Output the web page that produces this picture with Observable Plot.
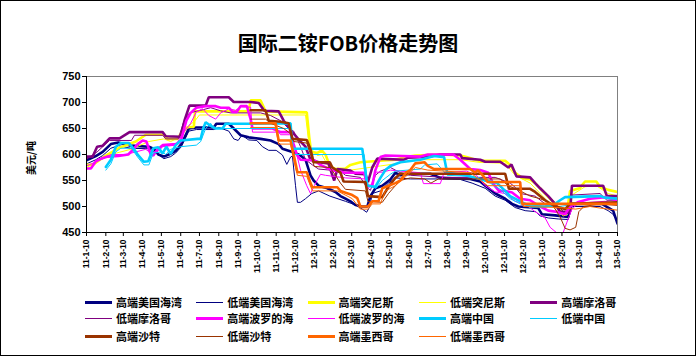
<!DOCTYPE html>
<html><head><meta charset="utf-8">
<script src="https://cdn.jsdelivr.net/npm/d3@7"></script>
<script src="https://cdn.jsdelivr.net/npm/@observablehq/plot@0.6"></script>
<style>
body{margin:0;background:#fff;}
#wrap{position:relative;width:696px;height:356px;overflow:hidden;background:#fff;font-family:"Noto Sans CJK SC","Noto Sans",sans-serif;}
#border{position:absolute;left:0;top:0;width:696px;height:356px;box-sizing:border-box;border:1px solid #000;pointer-events:none;}
#chart{position:absolute;left:0;top:0;}
#chart svg text{font-weight:bold;font-family:"Liberation Sans",Arial,sans-serif;fill:#000;}
#title{position:absolute;left:0;width:696px;top:31px;text-align:center;font-size:20px;font-weight:bold;line-height:24px;color:#000;}
#ylab{position:absolute;left:30px;top:158px;transform:translate(-50%,-50%) rotate(-90deg);font-size:10px;font-weight:bold;white-space:nowrap;}
.lg{position:absolute;height:14px;white-space:nowrap;font-size:11px;font-weight:bold;line-height:14px;}
.lg .sw{position:absolute;left:0;width:27px;}
.lg .tx{position:absolute;left:31px;top:0;}
</style>
</head><body>
<div id="wrap">
  <div id="chart"></div>
  <div id="title">国际二铵FOB价格走势图</div>
  <div id="ylab">美元/吨</div>
  <div id="legend"></div>
  <div id="border"></div>
</div>
<script>
// ---- data (date yy-mm-dd, USD/t) ----
const tickDates = ["11-01-10","11-02-10","11-03-10","11-04-10","11-05-10","11-06-10","11-07-10","11-08-10","11-09-10","11-10-10","11-11-10","11-12-10","12-01-10","12-02-10","12-03-10","12-04-10","12-05-10","12-06-10","12-07-10","12-08-10","12-09-10","12-10-10","12-11-10","12-12-10","13-01-10","13-02-10","13-03-10","13-04-10","13-05-10"];
const yTicks = [450,500,550,600,650,700,750];

const seriesNames = ["高端美国海湾","低端美国海湾","高端突尼斯","低端突尼斯","高端摩洛哥","低端摩洛哥","高端波罗的海","低端波罗的海","高端中国","低端中国","高端沙特","低端沙特","高端墨西哥","低端墨西哥"];
const seriesColors = ["#000080","#000080","#FFFF00","#FFFF00","#800080","#800080","#FF00FF","#FF00FF","#00CCFF","#00CCFF","#993300","#993300","#FF6600","#FF6600"];
const seriesThick = [true,false,true,false,true,false,true,false,true,false,true,false,true,false];

const hiUS = [["11-01-10",589],["11-01-25",597],["11-02-05",605],["11-02-18",620],["11-03-02",623],["11-03-22",617],["11-04-20",615],["11-04-29",610],["11-05-05",600],["11-05-14",596],["11-05-22",600],["11-06-02",607],["11-06-11",620],["11-06-23",650],["11-07-05",652],["11-08-02",652],["11-08-06",659],["11-08-26",659],["11-09-03",650],["11-09-14",637],["11-09-27",633],["11-10-16",630],["11-11-01",627],["11-11-14",620],["11-11-20",611],["11-12-06",605],["11-12-19",598],["11-12-27",590],["12-01-04",560],["12-01-09",550],["12-01-17",540],["12-01-31",535],["12-02-13",528],["12-02-21",520],["12-02-29",515],["12-03-08",510],["12-03-16",503],["12-03-27",500],["12-04-04",500],["12-04-09",520],["12-04-17",535],["12-04-28",540],["12-05-11",552],["12-05-19",565],["12-05-27",560],["12-06-12",563],["12-07-14",563],["12-07-30",555],["12-09-16",553],["12-10-02",548],["12-10-10",540],["12-10-26",525],["12-11-11",515],["12-11-22",505],["12-12-02",500],["13-01-03",497],["13-01-09",485],["13-01-30",483],["13-02-20",480],["13-02-26",505],["13-04-15",505],["13-04-25",498],["13-05-03",492],["13-05-10",467]];
const loUS = [["11-01-10",582],["11-01-25",590],["11-02-05",598],["11-02-18",612],["11-03-02",617],["11-03-22",612],["11-04-20",611],["11-04-29",605],["11-05-14",592],["11-05-25",596],["11-06-02",603],["11-06-11",615],["11-06-23",645],["11-07-05",648],["11-08-02",648],["11-08-10",652],["11-08-26",645],["11-09-03",630],["11-09-10",627],["11-09-16",637],["11-09-27",628],["11-10-10",627],["11-10-19",615],["11-10-29",608],["11-11-10",608],["11-11-20",599],["11-11-27",581],["11-12-03",595],["11-12-06",597],["11-12-11",540],["11-12-14",508],["11-12-19",508],["11-12-27",515],["12-01-06",525],["12-01-17",530],["12-02-04",520],["12-02-29",510],["12-03-16",503],["12-03-27",495],["12-04-03",489],["12-04-08",500],["12-04-12",525],["12-04-25",530],["12-05-08",545],["12-05-19",555],["12-06-12",553],["12-07-25",553],["12-08-31",552],["12-09-19",545],["12-10-10",535],["12-10-26",520],["12-11-11",512],["12-11-19",505],["12-11-27",498],["12-12-13",492],["12-12-30",490],["13-01-06",482],["13-01-19",478],["13-02-04",476],["13-02-20",475],["13-02-26",500],["13-04-12",500],["13-04-25",492],["13-05-03",485],["13-05-10",470]];
const hiTun = [["11-01-10",580],["11-01-20",580],["11-02-10",598],["11-03-02",612],["11-03-30",625],["11-04-15",638],["11-05-15",638],["11-05-20",630],["11-06-05",630],["11-06-15",650],["11-06-23",653],["11-07-01",653],["11-07-03",683],["11-09-27",683],["11-09-30",704],["11-10-16",704],["11-10-24",683],["11-12-29",681],["12-01-02",633],["12-01-05",605],["12-01-15",603],["12-01-22",608],["12-01-28",600],["12-02-04",578],["12-02-13",572],["12-02-29",573],["12-03-08",580],["12-03-24",585],["12-04-25",588],["12-05-19",590],["12-06-05",595],["12-06-20",598],["12-07-30",600],["12-08-31",598],["12-09-10",595],["12-09-30",588],["12-11-11",588],["12-11-19",580],["12-11-27",565],["12-12-08",555],["12-12-21",552],["12-12-29",545],["13-01-06",535],["13-01-14",525],["13-01-30",505],["13-02-12",488],["13-02-18",490],["13-02-23",530],["13-03-10",535],["13-03-19",548],["13-04-06",548],["13-04-12",538],["13-04-25",532],["13-05-10",528]];
const loTun = [["11-01-10",575],["11-01-25",585],["11-02-18",600],["11-03-22",610],["11-04-20",625],["11-05-14",630],["11-05-25",625],["11-06-11",635],["11-06-23",655],["11-07-03",665],["11-07-10",676],["11-12-27",676],["12-01-02",615],["12-01-15",598],["12-01-22",600],["12-02-04",572],["12-02-13",566],["12-03-08",570],["12-04-25",578],["12-05-19",582],["12-06-20",590],["12-08-31",590],["12-09-30",585],["12-11-11",583],["12-11-27",560],["12-12-21",545],["13-01-14",515],["13-01-30",495],["13-02-12",482],["13-02-18",484],["13-02-23",520],["13-03-19",538],["13-04-06",540],["13-04-25",525],["13-05-10",520]];
const hiMor = [["11-01-10",596],["11-01-20",596],["11-01-27",615],["11-02-05",617],["11-02-16",631],["11-03-04",631],["11-03-20",643],["11-05-12",643],["11-05-17",635],["11-06-10",634],["11-06-16",665],["11-06-24",694],["11-07-20",694],["11-07-25",710],["11-08-26",710],["11-09-03",701],["11-09-30",701],["11-10-13",699],["11-10-22",684],["11-11-14",683],["11-11-22",665],["11-11-30",652],["11-12-08",640],["11-12-19",625],["11-12-27",615],["12-01-04",590],["12-01-17",585],["12-02-02",583],["12-02-08",560],["12-02-11",550],["12-02-16",572],["12-03-08",569],["12-03-16",563],["12-04-01",562],["12-04-05",547],["12-04-12",575],["12-04-20",592],["12-06-02",590],["12-06-09",594],["12-07-14",596],["12-07-30",600],["12-08-31",600],["12-09-03",593],["12-10-02",590],["12-10-10",586],["12-11-03",586],["12-11-16",575],["12-11-21",581],["12-11-29",558],["12-12-21",556],["12-12-29",545],["13-01-06",535],["13-01-19",520],["13-01-30",505],["13-02-07",490],["13-02-23",490],["13-02-26",540],["13-04-17",540],["13-04-23",520],["13-05-10",520]];
const loMor = [["11-01-10",591],["11-01-27",605],["11-02-16",627],["11-03-23",627],["11-03-28",637],["11-05-12",637],["11-05-17",630],["11-06-06",630],["11-06-14",660],["11-06-24",680],["11-07-12",685],["11-07-28",690],["11-08-13",684],["11-08-29",680],["11-10-16",680],["11-11-01",675],["11-11-17",665],["11-11-30",650],["11-12-08",645],["11-12-19",615],["11-12-27",590],["12-01-07",580],["12-01-17",572],["12-02-04",570],["12-02-21",568],["12-02-29",560],["12-03-24",556],["12-04-03",537],["12-04-09",531],["12-04-17",560],["12-04-25",568],["12-05-11",575],["12-05-19",570],["12-05-27",565],["12-06-12",560],["12-08-07",556],["12-10-26",556],["12-11-19",545],["12-11-27",537],["12-12-05",525],["12-12-29",520],["13-01-14",505],["13-02-07",498],["13-02-15",485],["13-02-23",488],["13-02-26",522],["13-04-12",525],["13-04-23",512],["13-05-10",512]];
const hiBal = [["11-01-10",573],["11-01-17",573],["11-01-25",587],["11-02-02",592],["11-02-13",596],["11-03-02",597],["11-03-18",600],["11-03-26",610],["11-04-02",620],["11-04-10",627],["11-04-16",625],["11-04-23",600],["11-04-27",598],["11-05-04",610],["11-05-12",618],["11-06-02",620],["11-06-10",625],["11-06-19",665],["11-06-26",680],["11-07-05",690],["11-07-20",693],["11-08-05",693],["11-08-13",690],["11-08-26",690],["11-09-01",682],["11-09-08",682],["11-09-14",693],["11-09-24",693],["11-09-30",668],["11-10-03",650],["11-11-04",650],["11-11-17",643],["11-12-03",643],["11-12-08",620],["11-12-13",600],["11-12-19",590],["12-01-10",589],["12-01-20",580],["12-02-07",570],["12-02-29",565],["12-03-30",565],["12-04-04",540],["12-04-12",540],["12-04-17",570],["12-04-25",595],["12-05-03",598],["12-06-28",596],["12-07-10",600],["12-08-20",600],["12-08-31",590],["12-09-16",572],["12-10-02",570],["12-10-15",565],["12-10-22",545],["12-11-01",530],["12-11-11",530],["12-11-22",527],["12-12-05",515],["12-12-21",512],["13-01-06",500],["13-01-19",492],["13-02-01",490],["13-02-15",485],["13-02-23",500],["13-03-07",508],["13-03-27",515],["13-04-20",518],["13-05-10",512]];
const loBal = [["11-01-10",578],["11-02-02",590],["11-02-18",600],["11-03-14",600],["11-03-30",605],["11-04-15",610],["11-04-23",603],["11-05-07",608],["11-05-12",615],["11-06-02",618],["11-06-13",640],["11-06-26",660],["11-07-05",682],["11-07-15",688],["11-07-25",675],["11-08-05",668],["11-08-13",680],["11-08-26",688],["11-09-06",685],["11-09-14",692],["11-09-30",691],["11-10-03",643],["11-11-14",643],["11-11-17",638],["11-12-03",638],["11-12-13",600],["11-12-19",570],["11-12-29",540],["12-01-04",525],["12-01-10",540],["12-01-20",562],["12-01-28",560],["12-02-29",555],["12-04-01",553],["12-04-05",535],["12-04-10",540],["12-04-17",566],["12-04-28",566],["12-05-11",570],["12-05-27",568],["12-06-28",565],["12-07-03",544],["12-07-30",544],["12-08-05",565],["12-09-10",568],["12-09-26",560],["12-10-10",540],["12-10-26",528],["12-11-11",525],["12-11-27",510],["12-12-13",505],["12-12-29",490],["13-01-14",478],["13-01-22",460],["13-02-01",450],["13-02-12",450],["13-02-18",470],["13-02-26",495],["13-03-07",505],["13-03-27",508],["13-04-20",510],["13-05-10",505]];
const hiChn = [["11-02-10",576],["11-02-18",590],["11-02-26",615],["11-03-06",622],["11-03-19",622],["11-03-26",612],["11-04-02",600],["11-04-12",586],["11-04-19",587],["11-04-27",612],["11-05-05",614],["11-05-12",602],["11-05-18",615],["11-05-25",601],["11-06-02",618],["11-06-10",627],["11-07-07",630],["11-07-12",630],["11-07-16",650],["11-07-20",662],["11-07-28",655],["11-08-05",650],["11-08-16",650],["11-08-21",659],["11-09-27",659],["11-12-03",660],["11-12-06",611],["12-03-27",611],["12-04-04",540],["12-04-17",538],["12-04-25",555],["12-05-03",570],["12-05-11",578],["12-05-27",585],["12-06-28",590],["12-07-20",597],["12-08-05",595],["12-08-10",565],["12-09-08",560],["12-10-18",548],["12-10-29",545],["12-11-11",530],["12-11-19",520],["12-12-21",500],["13-01-14",500],["13-01-30",505],["13-02-07",512],["13-02-15",518],["13-04-12",520],["13-04-20",517],["13-05-10",515]];
const loChn = [["11-02-10",570],["11-02-18",582],["11-02-26",605],["11-03-06",612],["11-03-23",612],["11-04-02",595],["11-04-12",580],["11-04-20",580],["11-04-27",603],["11-05-12",605],["11-05-17",600],["11-05-25",610],["11-06-10",615],["11-07-05",618],["11-07-12",625],["11-07-20",650],["11-07-28",660],["11-08-02",650],["11-12-03",650],["11-12-06",600],["12-03-30",600],["12-04-05",540],["12-04-18",535],["12-04-28",550],["12-05-11",562],["12-05-19",568],["12-06-28",572],["12-07-05",580],["12-07-25",582],["12-08-10",560],["12-09-16",558],["12-10-18",545],["12-11-03",533],["12-11-19",515],["12-12-05",505],["13-01-14",500],["13-02-07",500],["13-03-04",505],["13-05-10",505]];
const hiSau = [["11-09-30",685],["11-10-24",685],["11-10-29",665],["11-11-17",663],["11-11-30",660],["11-12-06",630],["11-12-29",628],["12-01-04",610],["12-01-09",585],["12-02-04",585],["12-02-08",575],["12-02-21",565],["12-02-26",548],["12-04-01",547],["12-04-05",520],["12-04-28",518],["12-05-08",538],["12-05-19",555],["12-05-27",563],["12-11-11",563],["12-11-17",534],["12-12-21",534],["12-12-29",528],["13-01-14",512],["13-01-30",500],["13-02-15",495],["13-02-23",505],["13-05-10",508]];
const loSau = [["11-09-30",668],["11-10-24",668],["11-11-01",660],["11-11-22",650],["11-12-03",640],["11-12-08",625],["11-12-29",622],["12-01-04",600],["12-01-10",577],["12-02-04",575],["12-02-13",560],["12-02-21",545],["12-02-29",533],["12-04-01",530],["12-04-05",510],["12-04-28",508],["12-05-08",525],["12-05-19",540],["12-05-27",550],["12-06-12",555],["12-07-05",553],["12-07-15",545],["12-07-27",553],["12-11-03",553],["12-11-16",540],["12-12-05",530],["12-12-21",520],["13-01-06",515],["13-01-25",505],["13-02-07",480],["13-02-15",458],["13-02-23",455],["13-03-04",460],["13-03-09",490],["13-03-17",500],["13-04-12",505],["13-05-10",502]];
const hiMex = [["11-09-30",660],["11-11-09",660],["11-11-14",627],["11-12-03",627],["11-12-08",600],["11-12-14",566],["11-12-29",566],["12-01-04",545],["12-01-07",537],["12-02-16",537],["12-02-21",530],["12-03-11",522],["12-03-19",516],["12-03-24",500],["12-04-05",500],["12-04-12",510],["12-04-22",510],["12-04-28",535],["12-05-08",540],["12-05-19",545],["12-05-27",550],["12-06-05",565],["12-06-12",570],["12-06-20",583],["12-07-05",585],["12-07-10",578],["12-07-20",572],["12-09-16",572],["12-09-24",565],["12-09-28",570],["12-10-06",560],["12-10-14",547],["12-12-05",547],["12-12-08",505],["13-05-10",505]];
const loMex = [["11-09-30",652],["11-11-09",652],["11-11-14",620],["11-12-03",620],["11-12-08",590],["11-12-14",560],["11-12-29",558],["12-01-07",530],["12-02-16",530],["12-03-11",515],["12-03-24",495],["12-04-05",495],["12-04-12",505],["12-04-25",505],["12-05-03",530],["12-05-19",540],["12-06-05",558],["12-06-20",575],["12-07-10",570],["12-09-16",565],["12-10-14",540],["12-12-05",540],["12-12-10",500],["13-02-07",498],["13-03-04",495],["13-03-27",500],["13-04-12",497],["13-05-10",493]];

const seriesData = [hiUS, loUS, hiTun, loTun, hiMor, loMor, hiBal, loBal, hiChn, loChn, hiSau, loSau, hiMex, loMex];

// ---- chart ----
const parse = d3.utcParse("%y-%m-%d");
const fmt = d3.utcFormat("%y-%-m-%-d");
const ticks = tickDates.map(parse);

const lineMarks = seriesData.map((s, i) => Plot.line(s, {
  x: d => parse(d[0]),
  y: d => d[1],
  stroke: seriesColors[i],
  strokeWidth: seriesThick[i] ? 2.6 : 1,
  strokeLinejoin: "miter",
  clip: true
}));

const chart = Plot.plot({
  width: 696,
  height: 290,
  marginTop: 76,
  marginBottom: 58,
  marginLeft: 86,
  marginRight: 79,
  style: {background: "transparent", overflow: "visible"},
  x: {type: "utc", domain: [ticks[0], ticks[ticks.length - 1]]},
  y: {domain: [yTicks[0], yTicks[yTicks.length - 1]]},
  marks: [
    Plot.frame({stroke: "#808080", strokeWidth: 1}),
    ...lineMarks,
    Plot.ruleY([yTicks[0]], {stroke: "#000", strokeWidth: 1}),
    Plot.ruleX([ticks[0]], {stroke: "#000", strokeWidth: 1}),
    Plot.axisY({ticks: yTicks, tickSize: 4, tickPadding: 2, fontSize: 11, label: null}),
    Plot.axisX({ticks: ticks, tickFormat: fmt, tickRotate: -90, tickSize: 4, tickPadding: 3, fontSize: 8.5, label: null})
  ]
});
document.getElementById("chart").appendChild(chart);

// ---- legend ----
const legend = document.getElementById("legend");
const rowY = [295, 311, 329];
seriesNames.forEach((name, i) => {
  const col = i % 5, row = Math.floor(i / 5);
  const item = document.createElement("div");
  item.className = "lg";
  item.style.left = (85 + col * 111.3) + "px";
  item.style.top = rowY[row] + "px";
  const sw = document.createElement("div");
  sw.className = "sw";
  const h = seriesThick[i] ? 3 : 1;
  sw.style.height = h + "px";
  sw.style.top = (7 - h / 2) + "px";
  sw.style.background = seriesColors[i];
  const tx = document.createElement("div");
  tx.className = "tx";
  tx.textContent = name;
  item.appendChild(sw);
  item.appendChild(tx);
  legend.appendChild(item);
});
</script>
</body></html>
